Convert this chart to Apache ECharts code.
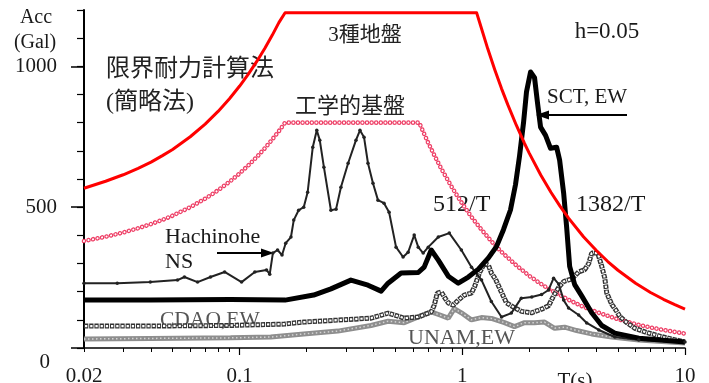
<!DOCTYPE html>
<html>
<head>
<meta charset="utf-8">
<script src="https://cdn.jsdelivr.net/npm/echarts@6/dist/echarts.min.js"></script>
<style>
html,body{margin:0;padding:0;background:#fff;}
#chart{width:709px;height:383px;}
</style>
</head>
<body>
<div id="chart"></div>
<script>
// ---------- data (period T in s, acceleration in Gal) ----------
const surfaceT = [0.02,0.025,0.03,0.035,0.04,0.045,0.05,0.06,0.07,0.08,0.09,0.1,0.11,0.12,0.13,0.14,0.15,0.16,1.16,1.2,1.3,1.4,1.5,1.6,1.75,1.9,2,2.25,2.5,2.75,3,3.5,4,4.5,5,6,7,8,9,10];
const surfaceA = [567,592,615,638,660,683,705,750,795,840,885,930,975,1020,1065,1110,1155,1190,1190,1152,1063,987,921,864,790,727,691,614,553,503,461,395,346,307,276,230,197,173,154,138];

const bedrockT = [0.02,0.025,0.03,0.035,0.04,0.045,0.05,0.06,0.07,0.08,0.09,0.1,0.11,0.12,0.13,0.14,0.15,0.16,0.64,0.7,0.75,0.8,0.9,1,1.1,1.2,1.35,1.5,1.75,2,2.25,2.5,3,3.5,4,5,6,7,8,10];
const bedrockA = [380,395,410,425,440,455,470,500,530,560,590,620,650,680,710,740,770,800,800,731,683,640,569,512,465,427,379,341,293,256,228,205,171,146,128,102,85,73,64,51];

const hachiT = [0.02,0.0282,0.0397,0.0526,0.0565,0.0647,0.074,0.0856,0.102,0.117,0.132,0.1365,0.141,0.148,0.155,0.161,0.17,0.175,0.184,0.194,0.202,0.213,0.222,0.229,0.239,0.257,0.271,0.285,0.307,0.333,0.347,0.362,0.377,0.397,0.418,0.445,0.469,0.504,0.542,0.571,0.608,0.634,0.667,0.703,0.78,0.874,0.99,1.1,1.22,1.35,1.5,1.66,1.84,2.05,2.27,2.44,2.57,2.71,2.85,3.0,3.33,3.62,4.1,4.84,6.2,10];
const hachiA = [230,230,234,241,252,234,252,270,234,270,277,262,337,348,330,372,394,454,489,500,553,713,773,738,642,489,493,571,656,738,773,748,656,585,525,514,482,358,323,340,401,358,337,358,394,408,348,287,241,165,110,124,177,181,190,206,248,227,170,142,117,89,64,39,28,21];

const sctT = [0.02,0.0397,0.0911,0.16,0.215,0.257,0.316,0.377,0.432,0.464,0.531,0.634,0.674,0.725,0.78,0.865,0.959,1.064,1.181,1.31,1.423,1.53,1.645,1.733,1.806,1.883,1.942,2.025,2.11,2.177,2.246,2.365,2.49,2.651,2.735,2.851,2.941,3.034,3.196,3.436,3.811,4.228,4.838,6.206,10];
const sctA = [170,170,172,170,188,210,241,223,202,230,266,268,287,348,312,255,230,252,280,320,360,420,490,580,680,800,910,980,960,869,784,755,709,713,667,550,429,290,225,185,125,80,53,35,21];

const cdaoT = [0.02,0.0397,0.0911,0.159,0.194,0.276,0.389,0.464,0.548,0.634,0.725,0.748,0.772,0.804,0.83,0.865,0.911,0.959,1.021,1.098,1.133,1.193,1.256,1.31,1.351,1.408,1.499,1.579,1.697,1.844,2.046,2.27,2.44,2.57,2.707,2.851,3.098,3.331,3.545,3.696,3.81,4.057,4.228,4.362,4.453,4.69,4.89,5.096,5.479,5.955,6.745,7.88,10];
const cdaoA = [78,78,80,85,92,99,106,124,106,110,128,152,195,199,181,160,152,170,188,195,216,266,301,294,266,245,198,160,145,130,125,138,150,185,215,236,245,270,278,300,337,337,290,248,195,155,135,112,90,70,55,40,21];

const unamT = [0.02,0.0397,0.0911,0.138,0.194,0.276,0.389,0.464,0.548,0.654,0.725,0.788,0.865,0.92,0.99,1.098,1.218,1.351,1.546,1.715,1.903,2.11,2.34,2.597,2.88,3.263,3.81,4.69,6.206,10];
const unamA = [32,34,36,39,50,60,80,95,90,115,128,118,106,140,125,100,108,105,90,76,90,90,92,70,74,62,50,39,28,18];

// ---------- axis ticks ----------
const xMinorTicks = [0.02,0.03,0.04,0.05,0.06,0.07,0.08,0.09,0.1,0.2,0.3,0.4,0.5,0.6,0.7,0.8,0.9,1,2,3,4,5,6,7,8,9,10];
const xMajorTicks = [0.1,1,10];
const xTickLabels = [0.02,0.1,1,10];
const yTickLabels = [0,500,1000];

const zip = (t, a) => t.map((v, i) => [v, a[i]]);
const serif = '"Liberation Serif","Times New Roman",serif';
const cjk = '"Liberation Serif","Noto Sans CJK JP",sans-serif';

function txt(text, x, y, size, align, fill, font) {
  return {type:'text', x:x, y:y, z:0, silent:true,
    style:{text:text, fontSize:size, fontFamily:font || serif, fill:fill || '#1a1a1a',
      align:align || 'left', verticalAlign:'middle'}};
}

const chart = echarts.init(document.getElementById('chart'), null, {renderer:'canvas'});
const option = {
  animation:false,
  backgroundColor:'#fff',
  grid:{left:84, right:24, top:10, bottom:35, containLabel:false, outerBoundsMode:'none'},
  xAxis:[
    {type:'log', logBase:10, min:0.02, max:10,
     axisLine:{lineStyle:{color:'#000', width:1.5}},
     axisTick:{customValues:xMinorTicks, length:4, lineStyle:{color:'#000', width:1}},
     axisLabel:{show:false}, splitLine:{show:false}},
    {type:'log', logBase:10, min:0.02, max:10, position:'bottom',
     axisLine:{show:false},
     axisTick:{customValues:xMajorTicks, length:7, lineStyle:{color:'#000', width:1.2}},
     axisLabel:{customValues:xTickLabels, margin:18, fontSize:21, fontFamily:serif, color:'#1a1a1a',
       formatter:function(v){
         const m = xTickLabels.find(l => Math.abs(Math.log10(l) - Math.log10(v)) < 1e-6);
         return m != null ? String(m) : '';
       }},
     splitLine:{show:false}}
  ],
  yAxis:[
    {type:'value', min:0, max:1200, interval:100,
     axisLine:{show:true, lineStyle:{color:'#000', width:2}},
     axisTick:{show:true, length:7, lineStyle:{color:'#000', width:1.2}},
     axisLabel:{show:false}, splitLine:{show:false}},
    {type:'value', min:0, max:1200, position:'left',
     axisLine:{show:false},
     axisTick:{show:true, customValues:yTickLabels, length:13, lineStyle:{color:'#000', width:1.5}},
     axisLabel:{customValues:yTickLabels, margin:27, fontSize:21, fontFamily:serif, color:'#1a1a1a',
       formatter:function(v){ return v === 0 ? '{z|0}' : String(v); },
       rich:{z:{padding:[28,7,0,0], fontSize:21, fontFamily:serif, color:'#1a1a1a'}}},
     splitLine:{show:false}}
  ],
  series:[
    {name:'bedrock', type:'line', data:zip(bedrockT, bedrockA), symbol:'none', silent:true,
     lineStyle:{color:'#ee3f66', width:4.6, type:[0.001,4.6], cap:'round'}},
    {name:'bedrockInner', type:'line', data:zip(bedrockT, bedrockA), symbol:'none', silent:true,
     lineStyle:{color:'#ffffff', width:2.1, type:[0.001,4.6], cap:'round'}},
    {name:'UNAM,EW', type:'line', data:zip(unamT, unamA), symbol:'none', silent:true,
     lineStyle:{color:'#8e8e8e', width:5}},
    {name:'UNAM,EW inner', type:'line', data:zip(unamT, unamA), symbol:'none', silent:true,
     lineStyle:{color:'#d4d4d4', width:1.5, type:[1.5,2.5]}},
    {name:'CDAO,EW', type:'line', data:zip(cdaoT, cdaoA), symbol:'none', silent:true,
     lineStyle:{color:'#333', width:5, type:[4.3,0.9], cap:'butt'}},
    {name:'CDAO,EW inner', type:'line', data:zip(cdaoT, cdaoA), symbol:'none', silent:true,
     lineStyle:{color:'#fff', width:2.2, type:[2.3,2.9], dashOffset:4.2, cap:'butt'}},
    {name:'Hachinohe NS', type:'line', data:zip(hachiT, hachiA), symbol:'circle', symbolSize:3.5, silent:true,
     itemStyle:{color:'#222'}, lineStyle:{color:'#222', width:2}},
    {name:'SCT, EW', type:'line', data:zip(sctT, sctA), symbol:'none', silent:true,
     lineStyle:{color:'#000', width:5, join:'round'}},
    {name:'3種地盤', type:'line', data:zip(surfaceT, surfaceA), symbol:'none', silent:true, clip:false,
     lineStyle:{color:'#ff0000', width:3, join:'round'}}
  ],
  graphic:[
    txt('Acc', 36, 18, 20, 'center'),
    txt('(Gal)', 35, 43, 20, 'center'),
    txt('限界耐力計算法', 106, 70, 24, 'left', '#222', cjk),
    txt('(簡略法)', 106, 103, 24, 'left', '#222', cjk),
    txt('3種地盤', 365, 35, 21, 'center', '#222', cjk),
    txt('工学的基盤', 350, 107, 22, 'center', '#222', cjk),
    txt('h=0.05', 607, 32, 23, 'center'),
    txt('SCT, EW', 547, 97, 21, 'left'),
    txt('512/T', 433, 205, 24, 'left'),
    txt('1382/T', 576, 205, 24, 'left'),
    txt('Hachinohe', 165, 237, 22, 'left'),
    txt('NS', 165, 262, 22, 'left'),
    txt('CDAO,EW', 160, 320, 21.5, 'left', '#555'),
    txt('UNAM,EW', 408, 338, 22, 'left', '#555'),
    txt('T(s)', 575, 381, 21, 'center'),
    {type:'line', silent:true, shape:{x1:217, y1:253, x2:264, y2:253}, style:{stroke:'#000', lineWidth:2}},
    {type:'polygon', silent:true, shape:{points:[[274,253],[261,248.5],[261,257.5]]}, style:{fill:'#000'}},
    {type:'line', silent:true, shape:{x1:627, y1:115, x2:546, y2:115}, style:{stroke:'#000', lineWidth:2}},
    {type:'polygon', silent:true, shape:{points:[[536,115],[549,110.5],[549,119.5]]}, style:{fill:'#000'}}
  ]
};
chart.setOption(option);
</script>
</body>
</html>
